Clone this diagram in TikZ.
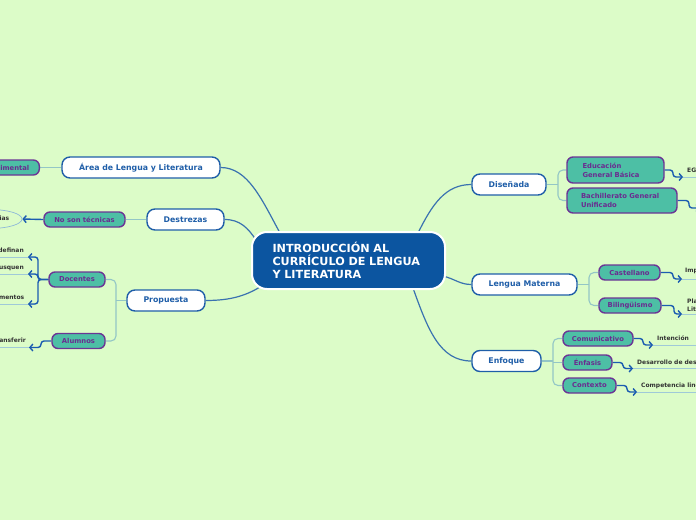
\documentclass[tikz,border=0pt]{standalone}
\usepackage{fontspec}
\setmainfont{DejaVu Sans}
\usetikzlibrary{shapes.geometric,arrows.meta,calc}
\definecolor{bgc}{HTML}{DCFCC8}
\definecolor{cblue}{HTML}{0C55A0}
\definecolor{mblue}{HTML}{1F5EA8}
\definecolor{spurple}{HTML}{6B3595}
\definecolor{steal}{HTML}{4DBFA5}
\definecolor{stext}{HTML}{6A2C90}
\definecolor{ltext}{HTML}{333333}
\definecolor{lblue}{HTML}{3A72B0}
\definecolor{bcol}{HTML}{93C6C6}
\definecolor{ablue}{HTML}{1B5CB0}
\definecolor{ucol}{HTML}{9FC9D8}
\definecolor{ecol}{HTML}{8DB8D8}
\pgfdeclarelayer{back}
\pgfdeclarelayer{links}
\pgfsetlayers{back,links,main}
\begin{document}
\begin{tikzpicture}[x=1pt,y=-1pt,
 cnode/.style={draw=white, line width=2pt, fill=cblue, rounded corners=15pt, minimum width=193pt, minimum height=57pt, text width=152pt, align=left, inner sep=0pt, text=white, font=\bfseries\fontsize{11.2}{13}\selectfont},
 mnode/.style={draw=mblue, line width=1.4pt, fill=white, rounded corners=8pt, minimum height=21pt, inner sep=0pt, text=mblue, font=\bfseries\fontsize{7.8}{9}\selectfont},
 snode/.style={draw=spurple, line width=1.4pt, fill=steal, rounded corners=6pt, minimum height=15pt, inner sep=0pt, text=stext, font=\bfseries\fontsize{6.8}{9}\selectfont},
 lnode/.style={inner sep=0pt, text=ltext, font=\bfseries\fontsize{6}{8}\selectfont},
 clink/.style={draw=lblue, line width=1.2pt},
 blink/.style={draw=bcol, line width=1.1pt, rounded corners=5pt},
 larrow/.style={draw=ablue, line width=1.4pt, rounded corners=3pt, -{Straight Barb[length=3pt,width=7pt]}},
 uline/.style={draw=ucol, line width=1pt}]
\useasboundingbox (0,0) rectangle (696,520);
\begin{pgfonlayer}{back}
\fill[bgc] (0,0) rectangle (696,520);
\end{pgfonlayer}

% central
\node[cnode] (c) at (348.5,260.5) {INTRODUCCIÓN AL\\CURRÍCULO DE LENGUA\\Y LITERATURA};

% main nodes
\node[mnode, minimum width=158pt] (area) at (141,167.5) {Área de Lengua y Literatura};
\node[mnode, minimum width=77pt] (destr) at (185.5,219.5) {Destrezas};
\node[mnode, minimum width=78pt] (prop) at (166,300.5) {Propuesta};
\node[mnode, minimum width=74pt] (dis) at (509,184.5) {Diseñada};
\node[mnode, minimum width=105pt] (lm) at (524.5,284.5) {Lengua Materna};
\node[mnode, minimum width=69pt] (enf) at (506.5,361) {Enfoque};

% sub nodes
\node[snode, anchor=east, inner xsep=10pt] (proc) at (40,167.5) {Procedimental};
\node[snode, minimum width=81pt] (nst) at (84.5,219.5) {No son técnicas};
\node[snode, minimum width=56pt] (doc) at (77,279.5) {Docentes};
\node[snode, minimum width=53pt] (alu) at (78.5,341) {Alumnos};
\node[snode, minimum width=97pt, minimum height=26pt, text width=66pt, align=left] (egb) at (615.5,170) {Educación\\General Básica};
\node[snode, minimum width=110pt, minimum height=25pt, text width=82pt, align=left] (bgu) at (622,200.5) {Bachillerato General\\Unificado};
\node[snode, minimum width=61pt] (cast) at (629.5,272.5) {Castellano};
\node[snode, minimum width=62pt] (bil) at (630,305.5) {Bilingüismo};
\node[snode, minimum width=70pt] (com) at (598,338.5) {Comunicativo};
\node[snode, minimum width=49pt] (enfa) at (587.5,362.5) {Énfasis};
\node[snode, minimum width=53pt] (ctx) at (589.5,385.5) {Contexto};

% leaves
\node[lnode, ellipse, draw=ecol, line width=0.7pt, minimum width=64pt, minimum height=19pt] (ell) at (-10,219) {Estrategias};
\node[lnode, anchor=east] (t1) at (24,250.5) {Que se definan};
\node[lnode, anchor=east] (t2) at (24,268) {Que busquen};
\node[lnode, anchor=east] (t3) at (24.5,297.5) {Instrumentos};
\node[lnode, anchor=east] (t4) at (26,340.5) {Transferir};
\node[lnode, anchor=west] (r1) at (687,170) {EGB};
\node[lnode, anchor=west] (r3) at (685,271) {Impulsa};
\node[lnode, anchor=west, align=left] (r4) at (687,305) {Plan\\Literatura};
\node[lnode, anchor=west] (r5) at (657,338) {Intención};
\node[lnode, anchor=west] (r6) at (637,362) {Desarrollo de destrezas};
\node[lnode, anchor=west] (r7) at (641,385.5) {Competencia lingüística};

\coordinate (la1) at (28,257);
\coordinate (la2) at (28,274);
\coordinate (la3) at (28,304);
\coordinate (la4) at (29,347.5);
\coordinate (ra1) at (683,177);
\coordinate (ra2) at (700,208);
\coordinate (ra3) at (682,279);
\coordinate (ra4) at (682,314);
\coordinate (ra5) at (653,345);
\coordinate (ra6) at (633,368.5);
\coordinate (ra7) at (637,392);

\begin{pgfonlayer}{links}
% central connectors
\draw[clink] (area.east) .. controls (248,167.5) and (262,200) .. (280,233);
\draw[clink] (destr.east) .. controls (240,219.5) and (248,228) .. (256,240);
\draw[clink] (prop.east) .. controls (230,300.5) and (245,296) .. (260,287);
\draw[clink] (dis.west) .. controls (445,184.5) and (432,205) .. (418,233);
\draw[clink] (lm.west) .. controls (460,284.5) and (455,279) .. (443,276);
\draw[clink] (enf.west) .. controls (440,361) and (428,330) .. (413,288);

% brackets
\draw[blink] (area.west) -- (proc.east);
\draw[blink] (destr.west) -- (nst.east);
\draw[blink] (doc.east) -| (116,300.5) |- (alu.east);
\draw[blink] (prop.west) -- (116,300.5);
\draw[blink] (egb.west) -| (558,184.5) |- (bgu.west);
\draw[blink] (dis.east) -- (558,184.5);
\draw[blink] (cast.west) -| (589,284.5) |- (bil.west);
\draw[blink] (lm.east) -- (589,284.5);
\draw[blink] (com.west) -| (553,361) |- (ctx.west);
\draw[blink] (enf.east) -- (553,361);
\draw[blink] (553,362.5) -- (enfa.west);

% underlines
\draw[uline] (-5,257) -- (35,257);
\draw[uline] (-5,274) -- (35,274);
\draw[uline] (-5,304) -- (35,304);
\draw[uline] (-5,347.5) -- (35,347.5);
\draw[uline] (ra1) -- (700,177);
\draw[uline] (ra3) -- (700,279);
\draw[uline] (ra4) -- (700,314);
\draw[uline] (ra5) -- (700,345);
\draw[uline] (ra6) -- (700,368.5);
\draw[uline] (ra7) -- (700,392);

% leaf arrows
\draw[larrow] (nst.west) -- (ell.east);
\draw[larrow] (doc.west) -- (38,279.5) |- (la1);
\draw[larrow] (doc.west) -- (38,279.5) |- (la2);
\draw[larrow] (doc.west) -- (38,279.5) |- (la3);
\draw[larrow] (alu.west) -- (41,341) |- (la4);
\draw[larrow] (egb.east) -- (673,170) |- (ra1);
\draw[larrow] (bgu.east) -- (689,200.5) |- (ra2);
\draw[larrow] (cast.east) -- (673,272.5) |- (ra3);
\draw[larrow] (bil.east) -- (674,305.5) |- (ra4);
\draw[larrow] (com.east) -- (643,338.5) |- (ra5);
\draw[larrow] (enfa.east) -- (623,362.5) |- (ra6);
\draw[larrow] (ctx.east) -- (627,385.5) |- (ra7);
\end{pgfonlayer}
\end{tikzpicture}
\end{document}
